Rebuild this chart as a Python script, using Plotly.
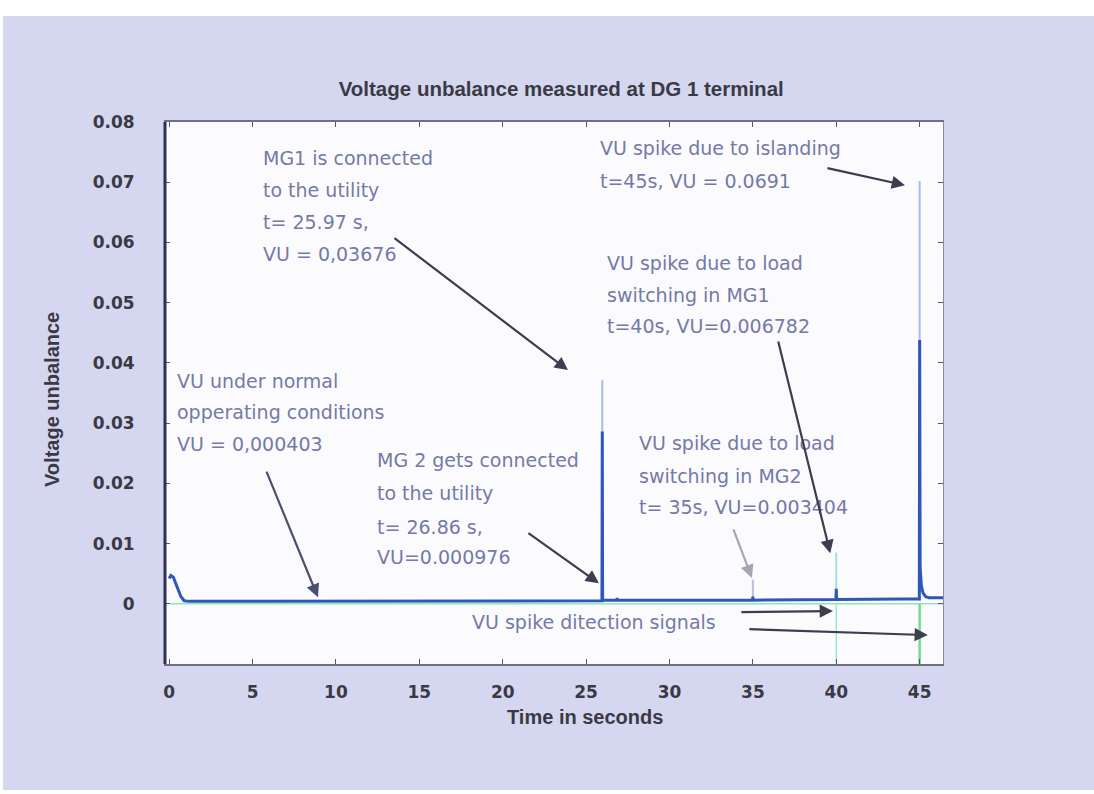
import plotly.graph_objects as go

# ---------------- data ----------------
# main voltage-unbalance trace (dark blue)
t_main = [0, 0.1, 0.25, 0.45, 0.7, 0.9, 1.2, 5, 10, 15, 20, 25, 25.95, 25.97, 25.99,
          26.84, 26.86, 26.88, 34.98, 35, 35.02, 39.98, 40, 40.02, 44, 44.98, 45,
          45.03, 45.1, 45.2, 45.35, 45.55, 46.4]
vu_main = [0.0042, 0.0047, 0.0044, 0.0030, 0.0012, 0.0005, 0.0004, 0.0004, 0.0004, 0.0005,
           0.0005, 0.0005, 0.0005, 0.0286, 0.0006, 0.0006, 0.00098, 0.0006, 0.0006, 0.0012,
           0.0006, 0.0007, 0.0025, 0.0007, 0.0008, 0.0008, 0.0438, 0.0060, 0.0030, 0.0018,
           0.0012, 0.0010, 0.0010]

# light spikes (peak values)
spike_t = [25.97, 35, 40, 45]
spike_peak = [0.0372, 0.0040, 0.0085, 0.0702]
spike_colors = ["#a9bcea", "#b8c0d8", "#9fe0e0", "#a9bcea"]
spike_base = 0.0005

# detection signal (green)
det_t = [40, 45]
det_low = -0.012
det_colors = ["#9fe8d0", "#6fdc94"]
det_widths = [1.5, 2.5]
t_end = 46.4

x_ticks = [0, 5, 10, 15, 20, 25, 30, 35, 40, 45]
y_ticks = [0, 0.01, 0.02, 0.03, 0.04, 0.05, 0.06, 0.07, 0.08]
y_tick_text = ["0", "0.01", "0.02", "0.03", "0.04", "0.05", "0.06", "0.07", "0.08"]

fig = go.Figure()

# detection baseline
fig.add_trace(go.Scatter(x=[0, t_end], y=[0, 0], mode="lines",
                         line=dict(color="#8ee8b4", width=1.5), hoverinfo="skip"))
# detection pulses
for t, c, w in zip(det_t, det_colors, det_widths):
    fig.add_trace(go.Scatter(x=[t, t], y=[0, det_low], mode="lines",
                             line=dict(color=c, width=w), hoverinfo="skip"))
# light spikes
for t, p, c in zip(spike_t, spike_peak, spike_colors):
    fig.add_trace(go.Scatter(x=[t, t], y=[spike_base, p], mode="lines",
                             line=dict(color=c, width=2), hoverinfo="skip"))
# main trace
fig.add_trace(go.Scatter(x=t_main, y=vu_main, mode="lines",
                         line=dict(color="#2f56b8", width=3), hoverinfo="skip"))

# ---------------- annotations ----------------
txt_color = "#7479a8"
txt_font = dict(family="DejaVu Sans", size=19, color=txt_color)

text_lines = [
    ("MG1 is connected", 5.5, 0.0740),
    ("to the utility", 5.5, 0.0687),
    ("t= 25.97 s,", 5.5, 0.0634),
    ("VU = 0,03676", 5.5, 0.0581),
    ("VU spike due to islanding", 25.71, 0.0757),
    ("t=45s, VU = 0.0691", 25.71, 0.0702),
    ("VU spike due to load", 26.13, 0.0566),
    ("switching in MG1", 26.13, 0.0513),
    ("t=40s, VU=0.006782", 26.13, 0.0461),
    ("VU under normal", 0.35, 0.0370),
    ("opperating conditions", 0.35, 0.0318),
    ("VU = 0,000403", 0.35, 0.0265),
    ("MG 2 gets connected", 12.34, 0.0239),
    ("to the utility", 12.34, 0.0184),
    ("t= 26.86 s,", 12.34, 0.0127),
    ("VU=0.000976", 12.34, 0.0078),
    ("VU spike due to load", 28.05, 0.0267),
    ("switching in MG2", 28.05, 0.0212),
    ("t= 35s, VU=0.003404", 28.05, 0.0161),
    ("VU spike ditection signals", 18.04, -0.0030),
]
annotations = []
for s, x, y in text_lines:
    annotations.append(dict(text=s, x=x, y=y, xref="x", yref="y", showarrow=False,
                            xanchor="left", yanchor="middle", font=txt_font))

arrows = [
    # (tail_x, tail_y, head_x, head_y, color)
    (13.42, 0.0609, 23.91, 0.0388, "#3c3d4e"),
    (5.80, 0.0222, 8.92, 0.0011, "#4a5070"),
    (21.45, 0.0119, 25.77, 0.0034, "#3c3d4e"),
    (33.80, 0.0126, 34.94, 0.0043, "#a4a6b4"),
    (36.50, 0.0438, 39.64, 0.0084, "#3c3d4e"),
    (39.38, 0.0724, 44.12, 0.0695, "#3c3d4e"),
    (34.22, -0.0014, 39.80, -0.0012, "#3c3d4e"),
    (34.70, -0.0042, 45.49, -0.0052, "#3c3d4e"),
]
for tx, ty, hx, hy, c in arrows:
    annotations.append(dict(text="", x=hx, y=hy, ax=tx, ay=ty, xref="x", yref="y",
                            axref="x", ayref="y", showarrow=True, arrowhead=2,
                            arrowsize=1.2, arrowwidth=2.2, arrowcolor=c))

title_font = dict(family="Liberation Sans", size=20, color="#3a3a44", weight="bold")
# axis titles (positioned like the reference)
annotations.append(dict(text="Time in seconds", xref="paper", yref="paper",
                        x=(585 - 165) / 778, y=-(717 - 664) / 542, showarrow=False,
                        xanchor="center", yanchor="middle", font=title_font))
annotations.append(dict(text="Voltage unbalance", xref="paper", yref="paper",
                        x=-(165 - 52) / 778, y=(664 - 400) / 542, showarrow=False,
                        textangle=-90, xanchor="center", yanchor="middle", font=title_font))

shapes = [
    # white scan border (top, left, bottom)
    dict(type="rect", xref="paper", yref="paper", x0=-0.3, x1=1.3, y0=1.1956, y1=1.3,
         fillcolor="white", line=dict(width=0), layer="below"),
    dict(type="rect", xref="paper", yref="paper", x0=-0.3, x1=-(165 - 3) / 778,
         y0=-0.3, y1=1.3, fillcolor="white", line=dict(width=0), layer="below"),
    dict(type="rect", xref="paper", yref="paper", x0=-0.3, x1=1.3,
         y0=-0.3, y1=-(790 - 664) / 542, fillcolor="white", line=dict(width=0), layer="below"),
    # thick dark left axis
    dict(type="line", xref="paper", yref="paper", x0=0, x1=0, y0=0, y1=1,
         line=dict(color="#2e3250", width=3)),
]

tick_font = dict(family="DejaVu Sans", size=17, color="#3a3a44", weight="bold")

fig.update_layout(
    width=1094, height=794, autosize=False,
    margin=dict(l=165, r=151, t=122, b=130),
    paper_bgcolor="#d5d7f1",
    plot_bgcolor="#fbfbfe",
    showlegend=False,
    title=dict(text="Voltage unbalance measured at DG 1 terminal",
               x=0.513, xref="container", xanchor="center",
               y=1 - 89 / 794, yref="container", yanchor="middle",
               font=dict(family="Liberation Sans", size=20.5, color="#3a3a44", weight="bold")),
    xaxis=dict(range=[-0.25, 46.4], tickvals=x_ticks, ticks="inside", ticklen=5,
               tickcolor="#555566", showgrid=False, zeroline=False,
               showline=True, linecolor="#6e6e88", linewidth=1.5, mirror="ticks",
               tickfont=tick_font, ticklabelstandoff=12),
    yaxis=dict(range=[-0.01, 0.08], tickvals=y_ticks, ticktext=y_tick_text,
               ticks="inside", ticklen=5, tickcolor="#555566", showgrid=False,
               zeroline=False, showline=True, linecolor="#8a8aa0", linewidth=1,
               mirror="ticks", tickfont=tick_font, ticklabelstandoff=26),
    annotations=annotations,
    shapes=shapes,
)

fig.write_html("out.html")
